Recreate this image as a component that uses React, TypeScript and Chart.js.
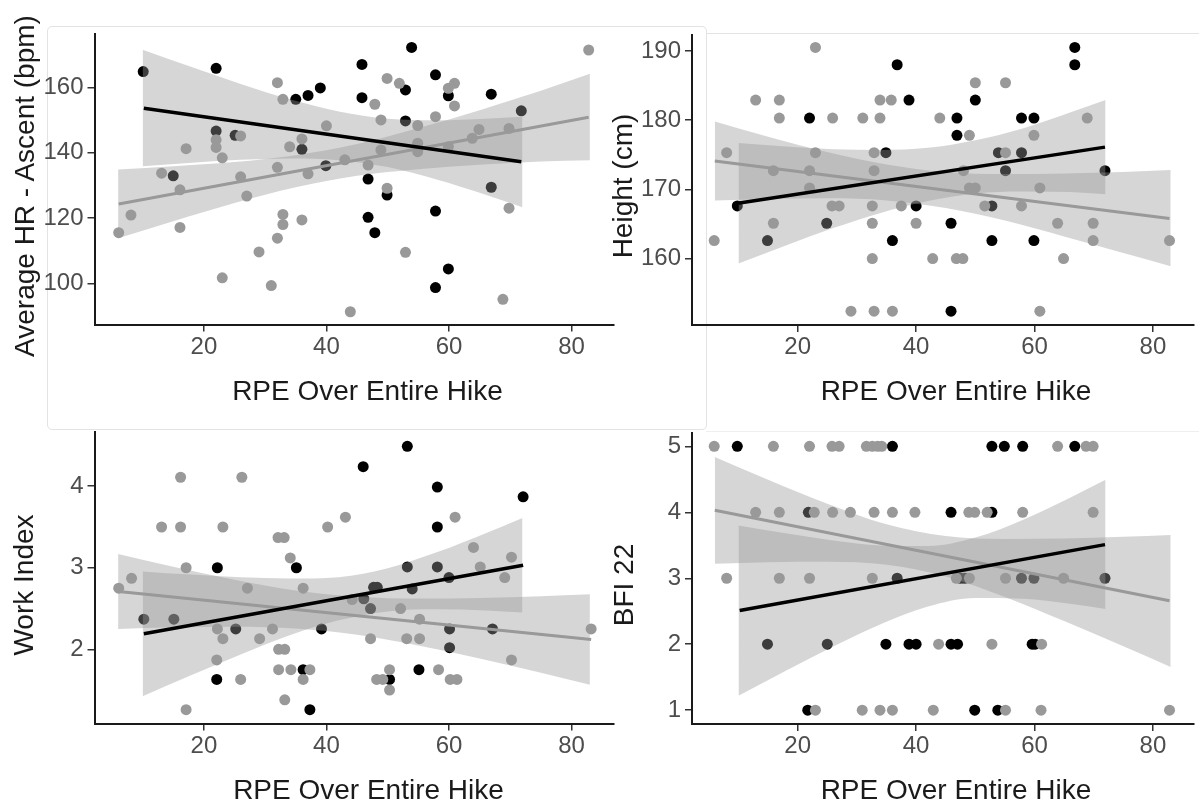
import React, { useEffect, useRef } from "react";
import { Chart, registerables } from "chart.js";

Chart.register(...registerables);

type Pt = [number, number];

// ---- shared x axis: RPE over entire hike ----
const rpeTicks = [20, 40, 60, 80];
const rpeRange: [number, number] = [2.15, 86.85];
const rpeTitle = "RPE Over Entire Hike";

// ---- Average HR - Ascent ----
const hrTicks = [100, 120, 140, 160];
const hrRange: [number, number] = [87.4, 176.3];
const hrBlack: Pt[] = [
  [10.1, 164.8], [22.0, 165.8], [15.0, 132.9], [22.0, 146.6], [25.1, 145.3], [35.0, 156.3],
  [37.0, 157.5], [39.0, 159.8], [36.0, 141.0], [39.9, 136.0], [45.8, 167.0], [45.8, 156.8],
  [46.8, 131.9], [46.8, 120.2], [47.9, 115.5], [49.9, 127.0], [52.9, 159.2], [52.9, 149.7],
  [53.9, 172.2], [57.8, 163.8], [57.8, 122.1], [57.8, 98.7], [59.9, 157.4], [59.9, 104.4],
  [66.9, 157.9], [66.9, 129.4], [71.8, 152.8],
];
const hrGray: Pt[] = [
  [6.1, 115.5], [8.1, 120.9], [13.1, 133.7], [16.1, 128.6], [16.1, 117.1], [17.1, 141.2],
  [22.0, 143.9], [22.0, 141.6], [23.0, 138.4], [23.0, 101.7], [26.0, 145.1], [26.0, 132.6],
  [27.0, 126.7], [29.0, 109.6], [31.0, 99.3], [32.0, 161.4], [32.0, 135.5], [32.0, 113.8],
  [32.9, 156.3], [32.9, 121.1], [32.9, 118.0], [34.0, 141.8], [36.0, 144.2], [36.0, 119.4],
  [37.0, 133.5], [40.0, 148.2], [43.0, 137.8], [43.9, 91.3], [46.8, 136.2], [47.9, 154.8],
  [48.9, 150.0], [48.9, 140.8], [49.9, 162.7], [49.9, 129.1], [51.9, 161.2], [52.9, 109.5],
  [54.9, 148.3], [54.9, 142.9], [54.9, 140.3], [57.8, 151.0], [59.9, 159.7], [60.9, 161.2],
  [60.9, 154.3], [59.9, 141.8], [63.8, 144.4], [64.9, 147.1], [69.8, 147.4], [69.8, 123.0],
  [68.8, 95.1], [82.8, 171.4],
];
const hrBlackFit: Pt[] = [[10.2, 153.6], [71.8, 137.2]];
const hrGrayFit: Pt[] = [[6.1, 124.3], [82.8, 150.8]];
const hrBlackBandX = [10, 18, 26, 34, 42, 50, 58, 66, 72];
const hrBlackBandHi = [171.5, 166.2, 161.0, 156.3, 152.6, 150.4, 149.9, 150.4, 151.0];
const hrBlackBandLo = [135.8, 136.9, 137.8, 138.2, 137.7, 135.6, 131.8, 127.1, 123.3];
const hrGrayBandX = [6, 15, 25, 35, 45, 55, 65, 75, 83];
const hrGrayBandHi = [134.8, 135.8, 137.1, 139.2, 142.6, 147.5, 153.0, 158.9, 164.1];
const hrGrayBandLo = [113.8, 119.0, 124.6, 129.4, 132.9, 134.9, 136.3, 137.3, 137.7];

// ---- Height (cm) ----
const htTicks = [160, 170, 180, 190];
const htRange: [number, number] = [150.4, 192.3];
const htBlack: Pt[] = [
  [9.8, 167.6], [22.0, 180.3], [24.9, 165.1], [34.9, 175.3], [36.8, 188.0], [38.8, 182.9],
  [40.0, 167.6], [45.9, 165.1], [46.9, 180.3], [46.9, 177.8], [50.0, 182.9], [53.9, 175.3],
  [55.1, 172.7], [52.8, 167.6], [57.8, 180.3], [59.9, 180.3], [57.8, 175.3], [66.8, 190.5],
  [66.8, 188.0], [71.9, 172.7], [14.9, 162.6], [36.0, 162.6], [45.9, 152.4], [52.8, 162.6],
  [59.9, 162.6],
];
const htGray: Pt[] = [
  [8.0, 175.3], [12.9, 182.9], [16.9, 182.9], [16.9, 180.3], [15.9, 172.7], [23.0, 190.5],
  [23.0, 175.3], [22.0, 172.7], [22.0, 170.2], [25.9, 180.3], [31.0, 180.3], [33.9, 182.9],
  [35.8, 182.9], [33.9, 180.3], [32.9, 175.3], [32.9, 172.7], [25.8, 167.6], [27.0, 167.6],
  [32.6, 167.6], [37.5, 167.6], [15.9, 165.1], [32.6, 165.1], [40.0, 165.1], [44.0, 180.3],
  [49.0, 177.8], [50.0, 185.4], [55.1, 185.4], [48.0, 172.7], [49.0, 170.2], [50.0, 170.2],
  [55.1, 175.3], [59.9, 177.8], [60.9, 170.2], [51.6, 167.6], [57.8, 167.6], [63.9, 165.1],
  [69.9, 165.1], [68.9, 180.3], [5.9, 162.6], [32.6, 160.0], [29.0, 152.4], [32.9, 152.4],
  [36.0, 152.4], [42.8, 160.0], [46.8, 160.0], [47.9, 160.0], [60.9, 152.4], [64.9, 160.0],
  [69.9, 162.6], [82.8, 162.6],
];
const htBlackFit: Pt[] = [[9.9, 168.0], [71.9, 176.1]];
const htGrayFit: Pt[] = [[6.0, 174.1], [82.8, 165.8]];
const htBlackBandX = [10, 18, 26, 34, 42, 50, 58, 66, 72];
const htBlackBandHi = [176.7, 176.2, 175.8, 175.7, 176.0, 177.1, 178.8, 181.1, 182.9];
const htBlackBandLo = [159.3, 161.9, 164.4, 166.6, 168.3, 169.4, 169.7, 169.6, 169.3];
const htGrayBandX = [6, 15, 25, 35, 45, 55, 65, 75, 83];
const htGrayBandHi = [179.8, 177.6, 175.4, 173.6, 172.5, 172.2, 172.3, 172.5, 172.8];
const htGrayBandLo = [168.4, 168.6, 168.7, 168.4, 167.3, 165.5, 163.2, 160.8, 158.9];

// ---- Work Index ----
const wiTicks = [2, 3, 4];
const wiRange: [number, number] = [1.09, 4.665];
const wiBlack: Pt[] = [
  [22.2, 3.0], [35.1, 3.0], [46.0, 4.24], [53.2, 4.49], [58.1, 3.99], [58.1, 3.5], [72.1, 3.87],
  [10.2, 2.37], [15.1, 2.37], [25.2, 2.25], [39.2, 2.25], [53.2, 3.01], [58.1, 3.01],
  [47.7, 2.76], [48.3, 2.76], [54.0, 2.74], [60.0, 2.88], [46.1, 2.62], [47.2, 2.5],
  [60.1, 2.25], [67.1, 2.25], [60.1, 2.02], [22.1, 1.63], [36.2, 1.75], [37.3, 1.26],
  [50.3, 1.63], [55.1, 1.75],
];
const wiGray: Pt[] = [
  [6.1, 2.75], [8.2, 2.87], [16.2, 4.11], [26.2, 4.11], [13.1, 3.5], [16.2, 3.5], [23.1, 3.5],
  [17.1, 3.0], [27.1, 2.75], [32.1, 3.37], [33.1, 3.37], [34.1, 3.12], [36.2, 2.75], [40.2, 3.5],
  [43.1, 3.62], [22.2, 2.25], [23.1, 2.13], [29.1, 2.13], [31.2, 2.25], [32.2, 2.0], [33.2, 2.0],
  [22.1, 1.87], [26.0, 1.63], [32.2, 1.75], [34.2, 1.75], [36.2, 1.63], [37.3, 1.75], [33.2, 1.38],
  [17.1, 1.26], [47.2, 2.13], [53.1, 2.13], [55.2, 2.13], [48.2, 1.63], [49.2, 1.63], [50.3, 1.75],
  [50.3, 1.5], [58.3, 1.75], [60.2, 1.63], [61.3, 1.63], [70.2, 1.87], [83.2, 2.25], [61.0, 3.62],
  [64.0, 3.25], [70.2, 3.13], [69.1, 2.88], [65.1, 3.01], [52.1, 2.5], [55.2, 2.37], [44.2, 2.61],
];
const wiBlackFit: Pt[] = [[10.2, 2.19], [72.1, 3.03]];
const wiGrayFit: Pt[] = [[6.1, 2.71], [83.2, 2.12]];
const wiBlackBandX = [10, 18, 26, 34, 42, 50, 58, 66, 72];
const wiBlackBandHi = [2.955, 2.916, 2.884, 2.869, 2.885, 2.995, 3.189, 3.424, 3.61];
const wiBlackBandLo = [1.425, 1.684, 1.936, 2.171, 2.355, 2.465, 2.491, 2.476, 2.45];
const wiGrayBandX = [6, 15, 25, 35, 45, 55, 65, 75, 83];
const wiGrayBandHi = [3.17, 3.012, 2.852, 2.721, 2.645, 2.622, 2.63, 2.652, 2.676];
const wiGrayBandLo = [2.25, 2.27, 2.278, 2.255, 2.179, 2.048, 1.888, 1.712, 1.566];

// ---- BFI 22 ----
const bfiTicks = [1, 2, 3, 4, 5];
const bfiRange: [number, number] = [0.79, 5.21];
const bfiBlack: Pt[] = [
  [9.8, 5], [36.0, 5], [52.8, 5], [54.9, 5], [58.0, 5], [66.8, 5],
  [21.8, 4], [45.9, 4], [52.8, 4],
  [36.8, 3], [47.5, 3], [48.2, 3], [57.8, 3], [59.9, 3], [71.9, 3],
  [14.9, 2], [25.0, 2], [34.9, 2], [38.8, 2], [40.0, 2], [45.9, 2], [47.0, 2], [59.6, 2], [60.1, 2],
  [21.7, 1], [49.9, 1], [53.8, 1],
];
const bfiGray: Pt[] = [
  [5.9, 5], [15.9, 5], [22.0, 5], [25.8, 5], [27.0, 5], [31.6, 5], [32.6, 5], [33.5, 5], [34.2, 5],
  [63.9, 5], [68.7, 5], [69.9, 5],
  [12.9, 4], [16.9, 4], [22.8, 4], [25.9, 4], [28.9, 4], [32.9, 4], [36.0, 4], [39.8, 4], [48.9, 4],
  [49.9, 4], [52.0, 4], [58.0, 4], [69.9, 4],
  [8.0, 3], [16.9, 3], [22.0, 3], [32.6, 3], [46.8, 3], [49.0, 3], [55.1, 3], [64.9, 3],
  [43.8, 2], [52.8, 2], [61.2, 2],
  [23.0, 1], [30.9, 1], [33.9, 1], [36.0, 1], [42.9, 1], [55.1, 1], [61.1, 1], [82.8, 1],
];
const bfiBlackFit: Pt[] = [[10.2, 2.51], [71.9, 3.51]];
const bfiGrayFit: Pt[] = [[6.0, 4.03], [82.8, 2.66]];
const bfiBlackBandX = [10, 18, 26, 34, 42, 50, 58, 66, 72];
const bfiBlackBandHi = [3.8, 3.681, 3.573, 3.496, 3.488, 3.617, 3.885, 4.222, 4.495];
const bfiBlackBandLo = [1.22, 1.599, 1.965, 2.302, 2.57, 2.699, 2.691, 2.614, 2.535];
const bfiGrayBandX = [6, 15, 25, 35, 45, 55, 65, 75, 83];
const bfiGrayBandHi = [4.84, 4.495, 4.131, 3.819, 3.641, 3.596, 3.603, 3.629, 3.656];
const bfiGrayBandLo = [3.22, 3.243, 3.251, 3.205, 3.027, 2.716, 2.351, 1.969, 1.656];

// ---- look ----
const FONT = "'Liberation Sans', Arial, Helvetica, sans-serif";
const BLACK = "#000000";
const GREY = "#999999";
const BAND = "rgba(153,153,153,0.4)";
const PAGE_W = 1199;
const PAGE_H = 802;

interface Band { x: number[]; hi: number[]; lo: number[] }
interface Panel {
  black: Pt[]; gray: Pt[]; blackFit: Pt[]; grayFit: Pt[];
  blackBand: Band; grayBand: Band;
  yTicks: number[]; yRange: [number, number]; yTitle: string;
  area: { left: number; right: number; top: number; bottom: number };
  yTitleAt: [number, number]; xTitleAt: [number, number];
}

const panels: Panel[] = [
  {
    black: hrBlack, gray: hrGray, blackFit: hrBlackFit, grayFit: hrGrayFit,
    blackBand: { x: hrBlackBandX, hi: hrBlackBandHi, lo: hrBlackBandLo },
    grayBand: { x: hrGrayBandX, hi: hrGrayBandHi, lo: hrGrayBandLo },
    yTicks: hrTicks, yRange: hrRange, yTitle: "Average HR - Ascent (bpm)",
    area: { left: 94.5, right: 613.5, top: 34, bottom: 324.5 },
    yTitleAt: [24.5, 186], xTitleAt: [367.5, 377],
  },
  {
    black: htBlack, gray: htGray, blackFit: htBlackFit, grayFit: htGrayFit,
    blackBand: { x: htBlackBandX, hi: htBlackBandHi, lo: htBlackBandLo },
    grayBand: { x: htGrayBandX, hi: htGrayBandHi, lo: htGrayBandLo },
    yTicks: htTicks, yRange: htRange, yTitle: "Height (cm)",
    area: { left: 692, right: 1195.7, top: 35, bottom: 325 },
    yTitleAt: [622.5, 186], xTitleAt: [956, 377],
  },
  {
    black: wiBlack, gray: wiGray, blackFit: wiBlackFit, grayFit: wiGrayFit,
    blackBand: { x: wiBlackBandX, hi: wiBlackBandHi, lo: wiBlackBandLo },
    grayBand: { x: wiGrayBandX, hi: wiGrayBandHi, lo: wiGrayBandLo },
    yTicks: wiTicks, yRange: wiRange, yTitle: "Work Index",
    area: { left: 94.5, right: 613.5, top: 432, bottom: 723.5 },
    yTitleAt: [24, 585], xTitleAt: [368.5, 775.5],
  },
  {
    black: bfiBlack, gray: bfiGray, blackFit: bfiBlackFit, grayFit: bfiGrayFit,
    blackBand: { x: bfiBlackBandX, hi: bfiBlackBandHi, lo: bfiBlackBandLo },
    grayBand: { x: bfiGrayBandX, hi: bfiGrayBandHi, lo: bfiGrayBandLo },
    yTicks: bfiTicks, yRange: bfiRange, yTitle: "BFI 22",
    area: { left: 692, right: 1195.7, top: 432.5, bottom: 724 },
    yTitleAt: [623.5, 585], xTitleAt: [956, 775.5],
  },
];

const toXY = (pts: Pt[]) => pts.map(([x, y]) => ({ x, y }));
const bandXY = (xs: number[], ys: number[]) => xs.map((x, i) => ({ x, y: ys[i] }));

// a confidence ribbon: upper edge filled down to the lower edge
function bandSets(b: Band) {
  const common = {
    type: "line" as const,
    borderColor: "rgba(0,0,0,0)",
    borderWidth: 0,
    pointRadius: 0,
    tension: 0.4,
    cubicInterpolationMode: "monotone" as const,
    order: 3,
  };
  return [
    { ...common, data: bandXY(b.x, b.hi), fill: "+1", backgroundColor: BAND },
    { ...common, data: bandXY(b.x, b.lo), fill: false },
  ];
}

const Y_BOX = 60;
const X_BOX = 50;

function buildConfig(p: Panel): any {
  const tickFont = { family: FONT, size: 24 };
  const axisCommon = {
    type: "linear",
    border: { display: true, color: "#1a1a1a", width: 2 },
    grid: {
      display: true,
      drawOnChartArea: false,
      drawTicks: true,
      tickLength: 7,
      color: "#333333",
      lineWidth: 1.5,
    },
  };
  return {
    type: "scatter",
    data: {
      datasets: [
        { type: "line", data: toXY(p.blackFit), borderColor: BLACK, borderWidth: 3.5, pointRadius: 0, fill: false, order: 1 },
        { type: "line", data: toXY(p.grayFit), borderColor: GREY, borderWidth: 3, pointRadius: 0, fill: false, order: 2 },
        ...bandSets(p.blackBand),
        ...bandSets(p.grayBand),
        { type: "scatter", data: toXY(p.gray), backgroundColor: GREY, borderWidth: 0, pointRadius: 5.5, order: 4 },
        { type: "scatter", data: toXY(p.black), backgroundColor: BLACK, borderWidth: 0, pointRadius: 5.5, order: 5 },
      ],
    },
    options: {
      animation: false,
      responsive: false,
      devicePixelRatio: 1,
      events: [],
      layout: {
        padding: {
          left: p.area.left - Y_BOX,
          right: PAGE_W - p.area.right,
          top: p.area.top,
          bottom: PAGE_H - p.area.bottom - X_BOX,
        },
      },
      plugins: {
        legend: { display: false },
        tooltip: { enabled: false },
        filler: { propagate: false, drawTime: "beforeDatasetDraw" },
      },
      scales: {
        x: {
          ...axisCommon,
          position: "bottom",
          min: rpeRange[0],
          max: rpeRange[1],
          afterFit: (s: any) => { s.height = X_BOX; },
          afterBuildTicks: (s: any) => { s.ticks = rpeTicks.map((v) => ({ value: v })); },
          ticks: { font: tickFont, color: "#4d4d4d", padding: 1, maxRotation: 0 },
        },
        y: {
          ...axisCommon,
          position: "left",
          min: p.yRange[0],
          max: p.yRange[1],
          afterFit: (s: any) => { s.width = Y_BOX; },
          afterBuildTicks: (s: any) => { s.ticks = p.yTicks.map((v) => ({ value: v })); },
          ticks: { font: tickFont, color: "#4d4d4d", padding: 4 },
        },
      },
    },
  };
}

const titleStyle: React.CSSProperties = {
  position: "absolute",
  fontFamily: FONT,
  fontSize: 28,
  lineHeight: "28px",
  height: 28,
  color: "#1a1a1a",
  whiteSpace: "nowrap",
};

export default function App() {
  const canvases = useRef<(HTMLCanvasElement | null)[]>([]);

  useEffect(() => {
    const charts = panels.map((p, i) => new Chart(canvases.current[i] as HTMLCanvasElement, buildConfig(p)));
    return () => charts.forEach((c) => c.destroy());
  }, []);

  return (
    <div style={{ position: "absolute", left: 0, top: 0, width: PAGE_W, height: PAGE_H, background: "#fff", overflow: "hidden" }}>
      {/* faint panel frames */}
      <div style={{ position: "absolute", left: 47, top: 26, width: 658, height: 402, border: "1px solid #e3e3e3", borderRadius: 5 }} />
      <div style={{ position: "absolute", left: 706, top: 33, width: 493, height: 0, borderTop: "1px solid #e3e3e3" }} />
      <div style={{ position: "absolute", left: 706, top: 431, width: 493, height: 0, borderTop: "1px solid #efefef" }} />

      {panels.map((p, i) => (
        <canvas
          key={"c" + i}
          ref={(el) => { canvases.current[i] = el; }}
          width={PAGE_W}
          height={PAGE_H}
          style={{ position: "absolute", left: 0, top: 0, width: PAGE_W, height: PAGE_H }}
        />
      ))}

      {panels.map((p, i) => (
        <div
          key={"yt" + i}
          style={{ ...titleStyle, left: p.yTitleAt[0], top: p.yTitleAt[1], transform: "translate(-50%, -50%) rotate(-90deg)" }}
        >
          {p.yTitle}
        </div>
      ))}
      {panels.map((p, i) => (
        <div
          key={"xt" + i}
          style={{ ...titleStyle, left: p.xTitleAt[0], top: p.xTitleAt[1], transform: "translateX(-50%)" }}
        >
          {rpeTitle}
        </div>
      ))}
    </div>
  );
}
